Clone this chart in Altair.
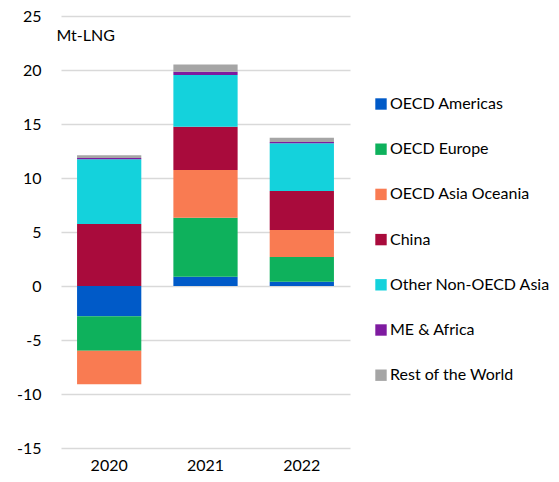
import altair as alt
import pandas as pd

years = ["2020", "2021", "2022"]
regions = ["OECD Americas", "OECD Europe", "OECD Asia Oceania", "China",
           "Other Non-OECD Asia", "ME & Africa", "Rest of the World"]
colors = ["#005AC8", "#0EB15C", "#F97B52", "#A90B3C", "#14D2DC", "#7E1BA0", "#A5A5A5"]

oecd_americas = [-2.8, 0.86, 0.40]
oecd_europe = [-3.2, 5.47, 2.29]
oecd_asia_oceania = [-3.1, 4.41, 2.50]
china = [5.74, 4.01, 3.61]
other_non_oecd_asia = [6.0, 4.79, 4.41]
me_africa = [0.12, 0.30, 0.12]
rest_of_world = [0.25, 0.66, 0.40]

series = [oecd_americas, oecd_europe, oecd_asia_oceania, china,
          other_non_oecd_asia, me_africa, rest_of_world]

rows = []
for i, (reg, vals) in enumerate(zip(regions, series)):
    for y, v in zip(years, vals):
        rows.append({"year": y, "region": reg, "value": v, "order": i})
df = pd.DataFrame(rows)

FONT = "Lato"

chart = alt.Chart(df).mark_bar().encode(
    x=alt.X("year:N", title=None,
            scale=alt.Scale(paddingInner=0.333, paddingOuter=0.1667),
            axis=alt.Axis(labelAngle=0, ticks=False, domain=False, labelFontSize=16,
                          labelColor="#000000", labelFont=FONT, labelPadding=9)),
    y=alt.Y("sum(value):Q",
            scale=alt.Scale(domain=[-15, 25], nice=False, zero=False),
            axis=alt.Axis(values=list(range(-15, 30, 5)), ticks=False, domain=False,
                          grid=True, gridColor="#D9D9D9", gridWidth=1.3,
                          labelFontSize=16, labelColor="#000000", labelFont=FONT,
                          labelPadding=20, labelExpr="'' + datum.value",
                          title="Mt-LNG", titleAngle=0, titleAlign="left",
                          titleBaseline="alphabetic", titleX=-5, titleY=24,
                          titleFont=FONT, titleFontSize=16, titleFontWeight="normal",
                          titleColor="#000000")),
    color=alt.Color("region:N", scale=alt.Scale(domain=regions, range=colors),
                    legend=alt.Legend(title=None, orient="none", legendX=312, legendY=80,
                                      symbolType="square", symbolSize=130,
                                      symbolStrokeWidth=0, labelFontSize=16,
                                      labelFont=FONT, labelColor="#000000",
                                      labelLimit=0,
                                      rowPadding=29.2, labelOffset=1)),
    order=alt.Order("order:Q"),
).properties(
    width=289, height=432,
    autosize=alt.AutoSizeParams(type="none"),
    padding={"left": 61, "top": 16, "right": 209, "bottom": 34},
).configure_view(stroke=None).configure_axisX(grid=False)

chart.save("out.html", embed_options={"renderer": "svg", "actions": False})
